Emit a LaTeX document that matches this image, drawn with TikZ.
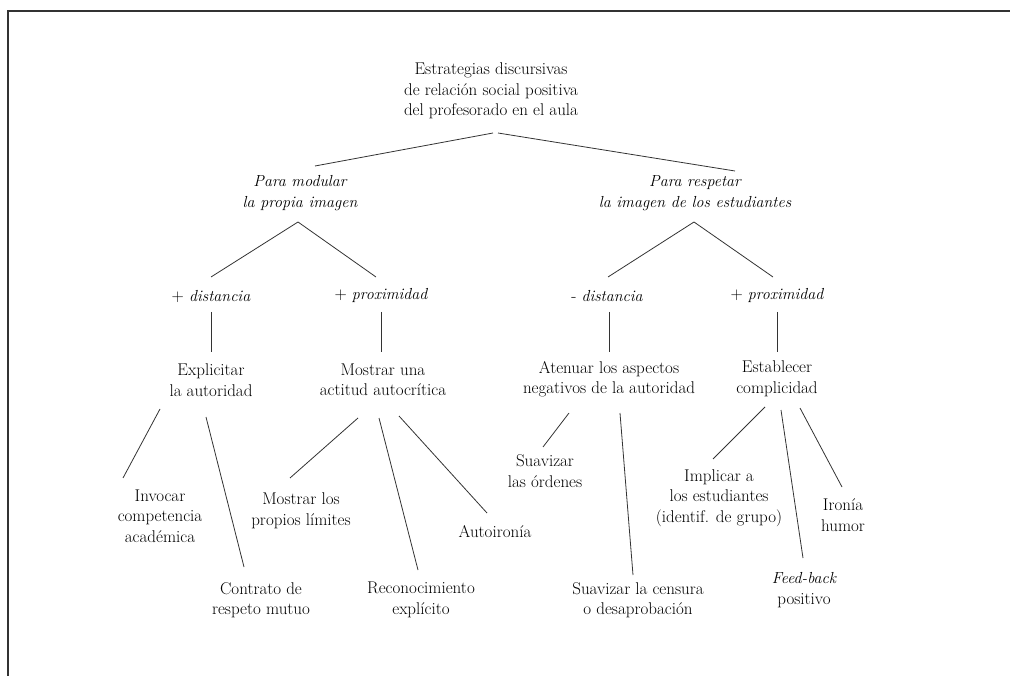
\documentclass[tikz,border=0pt]{standalone}
\newcommand\myit[1]{{\fontsize{16}{20.5}\selectfont\itshape #1}}
\begin{document}
\begin{tikzpicture}[x=1pt,y=-1pt,
  lbl/.style={align=center, inner sep=0pt, outer sep=0pt, text=black,
              font=\fontsize{17}{20.5}\selectfont},
  conn/.style={line width=0.8pt, draw=black!80},
  frame/.style={line width=2pt, draw=black!80}]
\useasboundingbox (0,0) rectangle (1010,676);
% frame (top and left edges)
\draw[frame] (7.5,676) -- (7.5,11.5) -- (1010,11.5);

% nodes
\node[lbl] (root) at (491,91) {Estrategias discursivas\\de relación social positiva\\del profesorado en el aula};
\node[lbl] (pm) at (300,193) {\myit{Para modular}\\\myit{la propia imagen}};
\node[lbl] (pr) at (695,193) {\myit{Para respetar}\\\myit{la imagen de los estudiantes}};
\node[lbl] (dl) at (211,296) {+ \myit{distancia}};
\node[lbl] (pl) at (381,296) {+ \myit{proximidad}};
\node[lbl] (rd) at (607,296) {- \myit{distancia}};
\node[lbl] (rp) at (777,296) {+ \myit{proximidad}};
\node[lbl] (ex) at (211,380) {Explicitar\\la autoridad};
\node[lbl] (mo) at (383,380) {Mostrar una\\actitud autocrítica};
\node[lbl] (at) at (609,379) {Atenuar los aspectos\\negativos de la autoridad};
\node[lbl] (es) at (777,379) {Establecer\\complicidad};
\node[lbl] (inv) at (160,516) {Invocar\\competencia\\académica};
\node[lbl] (con) at (261,600) {Contrato de\\respeto mutuo};
\node[lbl] (mlos) at (301,511) {Mostrar los\\propios límites};
\node[lbl] (rec) at (421,600) {Reconocimiento\\explícito};
\node[lbl] (auto) at (495,532) {Autoironía};
\node[lbl] (suav) at (545,471) {Suavizar\\las órdenes};
\node[lbl] (cens) at (638,600) {Suavizar la censura\\o desaprobación};
\node[lbl] (impl) at (719,498) {Implicar a\\los estudiantes\\(identif. de grupo)};
\node[lbl] (feed) at (804,590) {\myit{Feed-back}\\positivo};
\node[lbl] (iron) at (843,515) {Ironía\\humor};

% connectors
\draw[conn] ([shift={(2,42)}]root.center) -- ([shift={(15,-27)}]pm.center);
\draw[conn] ([shift={(7,42)}]root.center) -- ([shift={(40,-22)}]pr.center);
\draw[conn] ([shift={(-2,29)}]pm.center) -- ([shift={(0,-19)}]dl.center);
\draw[conn] ([shift={(-2,29)}]pm.center) -- ([shift={(-5,-19)}]pl.center);
\draw[conn] ([shift={(-1,29)}]pr.center) -- ([shift={(1,-19)}]rd.center);
\draw[conn] ([shift={(-1,29)}]pr.center) -- ([shift={(-4,-19)}]rp.center);
\draw[conn] ([shift={(0,16)}]dl.center) -- ([shift={(0,-28)}]ex.center);
\draw[conn] ([shift={(0,16)}]pl.center) -- ([shift={(-2,-28)}]mo.center);
\draw[conn] ([shift={(2,16)}]rd.center) -- ([shift={(0,-27)}]at.center);
\draw[conn] ([shift={(0,16)}]rp.center) -- ([shift={(0,-27)}]es.center);
\draw[conn] ([shift={(-51,29)}]ex.center) -- ([shift={(-37,-38)}]inv.center);
\draw[conn] ([shift={(-5,37)}]ex.center) -- ([shift={(-17,-33)}]con.center);
\draw[conn] ([shift={(-25,38)}]mo.center) -- ([shift={(-11,-33)}]mlos.center);
\draw[conn] ([shift={(-4,38)}]mo.center) -- ([shift={(-3,-30)}]rec.center);
\draw[conn] ([shift={(16,36)}]mo.center) -- ([shift={(-8,-19)}]auto.center);
\draw[conn] ([shift={(-40,34)}]at.center) -- ([shift={(-2,-24)}]suav.center);
\draw[conn] ([shift={(11,34)}]at.center) -- ([shift={(-5,-25)}]cens.center);
\draw[conn] ([shift={(-12,28)}]es.center) -- ([shift={(-6,-39)}]impl.center);
\draw[conn] ([shift={(4,31)}]es.center) -- ([shift={(-1,-32)}]feed.center);
\draw[conn] ([shift={(23,29)}]es.center) -- ([shift={(-1,-28)}]iron.center);
\end{tikzpicture}
\end{document}
